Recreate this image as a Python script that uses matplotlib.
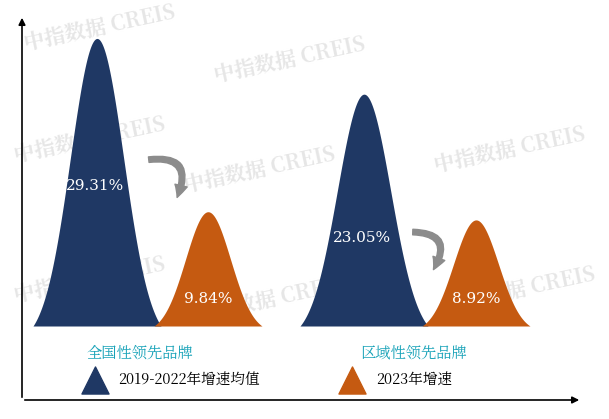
import numpy as np
import matplotlib.pyplot as plt
from matplotlib import font_manager as fm
from matplotlib.patches import FancyArrowPatch

cjk = [f for f in fm.findSystemFonts() if 'CJK' in f and ('SC' in f or 'ttc' in f.lower())]
if cjk:
    fm.fontManager.addfont(cjk[0])
    cjk_name = fm.FontProperties(fname=cjk[0]).get_name()
else:
    cjk_name = 'Noto Sans CJK SC'
plt.rcParams['font.family'] = [cjk_name, 'DejaVu Sans']

groups = ['全国性领先品牌', '区域性领先品牌']
series = ['2019-2022年增速均值', '2023年增速']
avg_growth = [29.31, 23.05]
growth_2023 = [9.84, 8.92]

navy = '#1f3864'
orange = '#c55a11'

fig = plt.figure(figsize=(6.09, 4.19), dpi=100)
ax = fig.add_axes([0, 0, 1, 1])
ax.set_xlim(0, 609)
scale = 8.9  # px per percentage point
ax.set_ylim(-93 / scale, 326 / scale)
ax.axis('off')

# watermarks
for (wx, wy) in [(100, 28), (290, 60), (90, 140), (260, 170), (510, 150), (90, 280), (270, 300), (520, 290)]:
    ax.text(wx, (326 - wy) / scale, '中指数据 CREIS', fontsize=15, fontweight='bold',
            color='#e6e6e6', rotation=12, ha='center', va='center', zorder=0)

def peak(cx, half, value, color):
    x = np.linspace(cx - half, cx + half, 300)
    t = (x - cx) / half
    h = value + 3.0
    y = h * (np.exp(-(t * 2.4) ** 2 / 2) - np.exp(-2.4 ** 2 / 2)) / (1 - np.exp(-2.4 ** 2 / 2))
    ax.fill_between(x, 0, y, color=color, zorder=2, lw=0)
    return h

centers_avg = [97, 364]
centers_new = [208, 476]
for i in range(2):
    peak(centers_avg[i], 64, avg_growth[i], navy)
    peak(centers_new[i], 54, growth_2023[i], orange)
    ax.text(centers_avg[i] - 2, [140, 88][i] / scale, f'{avg_growth[i]:.2f}%', color='white', fontsize=11,
            ha='center', va='center', family='DejaVu Serif', zorder=3)
    ax.text(centers_new[i], 27 / scale, f'{growth_2023[i]:.2f}%', color='white', fontsize=11,
            ha='center', va='center', family='DejaVu Serif', zorder=3)

# category labels
ax.text(140, -27 / scale, groups[0], color='#17a2b8', fontsize=11, ha='center', va='center')
ax.text(413, -27 / scale, groups[1], color='#17a2b8', fontsize=11, ha='center', va='center')

# legend
ax.scatter([95], [-54 / scale], marker='^', s=380, color=navy, zorder=3)
ax.text(118, -54 / scale, series[0], fontsize=10.5, ha='left', va='center')
ax.scatter([352], [-54 / scale], marker='^', s=380, color=orange, zorder=3)
ax.text(376, -54 / scale, series[1], fontsize=10.5, ha='left', va='center')

# curved arrows
for (p0, p1) in [((146, 160), (176, 200)), ((410, 232), (432, 272))]:
    a = FancyArrowPatch((p0[0], (326 - p0[1]) / scale), (p1[0], (326 - p1[1]) / scale),
                        connectionstyle='arc3,rad=-0.9', arrowstyle='simple,head_width=9,head_length=9,tail_width=4',
                        color='#8c8c8c', zorder=4)
    ax.add_patch(a)

# axes with arrows
ax.annotate('', xy=(22, (326 - 15) / scale), xytext=(22, -74 / scale),
            arrowprops=dict(arrowstyle='-|>', color='black', lw=1.2))
ax.annotate('', xy=(582, -74 / scale), xytext=(22, -74 / scale),
            arrowprops=dict(arrowstyle='-|>', color='black', lw=1.2))

fig.savefig('out.png', dpi=100)
